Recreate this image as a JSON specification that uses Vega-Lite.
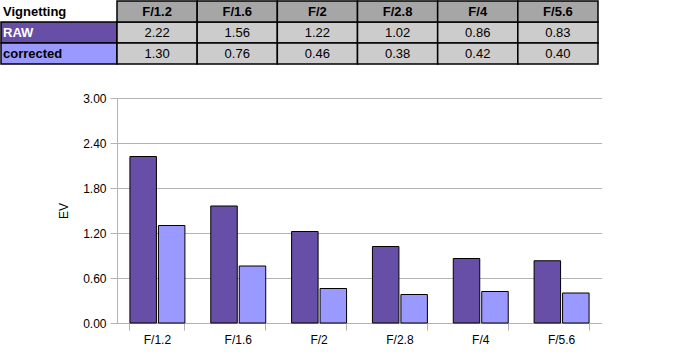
{
  "$schema": "https://vega.github.io/schema/vega-lite/v6.json",
  "padding": 0,
  "background": "white",
  "config": {"view": {"stroke": null}, "font": "Liberation Sans"},
  "datasets": {
    "bars": [
      {"F": "F/1.2", "series": "RAW", "EV": 2.22},
      {"F": "F/1.2", "series": "corrected", "EV": 1.30},
      {"F": "F/1.6", "series": "RAW", "EV": 1.56},
      {"F": "F/1.6", "series": "corrected", "EV": 0.76},
      {"F": "F/2", "series": "RAW", "EV": 1.22},
      {"F": "F/2", "series": "corrected", "EV": 0.46},
      {"F": "F/2.8", "series": "RAW", "EV": 1.02},
      {"F": "F/2.8", "series": "corrected", "EV": 0.38},
      {"F": "F/4", "series": "RAW", "EV": 0.86},
      {"F": "F/4", "series": "corrected", "EV": 0.42},
      {"F": "F/5.6", "series": "RAW", "EV": 0.83},
      {"F": "F/5.6", "series": "corrected", "EV": 0.40}
    ],
    "labels": [
      {"row": "header", "label": "Vignetting"},
      {"row": "RAW", "label": "RAW"},
      {"row": "corrected", "label": "corrected"}
    ]
  },
  "bounds": "flush",
  "spacing": 0,
  "hconcat": [
    {
      "width": 116,
      "height": 63,
      "data": {"name": "labels"},
      "encoding": {
        "y": {"field": "row", "type": "nominal", "sort": null, "scale": {"domain": ["header", "RAW", "corrected"], "paddingInner": 0, "paddingOuter": 0}, "axis": null}
      },
      "layer": [
        {
          "mark": {"type": "rect", "strokeWidth": 1.5},
          "encoding": {
            "fill": {"field": "row", "type": "nominal", "scale": {"domain": ["header", "RAW", "corrected"], "range": ["#ffffff", "#674ea7", "#9999ff"]}, "legend": null},
            "stroke": {"field": "row", "type": "nominal", "scale": {"domain": ["header", "RAW", "corrected"], "range": ["#ffffff", "#000000", "#000000"]}, "legend": null}
          }
        },
        {
          "mark": {"type": "text", "align": "left", "dx": 2, "fontWeight": "bold", "fontSize": 13, "font": "Liberation Sans"},
          "encoding": {
            "x": {"value": 0},
            "text": {"field": "label", "type": "nominal"},
            "color": {"field": "row", "type": "nominal", "scale": {"domain": ["header", "RAW", "corrected"], "range": ["#000000", "#ffffff", "#000000"]}, "legend": null}
          }
        }
      ]
    },
    {
      "bounds": "flush",
      "spacing": 34,
      "vconcat": [
        {
          "width": 481,
          "height": 63,
          "data": {"name": "bars"},
          "encoding": {
            "x": {"field": "F", "type": "nominal", "sort": null, "scale": {"domain": ["F/1.2", "F/1.6", "F/2", "F/2.8", "F/4", "F/5.6"], "paddingInner": 0, "paddingOuter": 0}, "axis": null}
          },
          "layer": [
            {
              "mark": {"type": "rect", "fill": "#cccccc", "stroke": "#000000", "strokeWidth": 1.5},
              "encoding": {
                "y": {"field": "series", "type": "nominal", "scale": {"domain": ["header", "RAW", "corrected"], "paddingInner": 0, "paddingOuter": 0}, "axis": null}
              }
            },
            {
              "transform": [{"filter": "datum.series === 'RAW'"}],
              "mark": {"type": "rect", "fill": "#a6a6a6", "stroke": "#000000", "strokeWidth": 1.5},
              "encoding": {
                "y": {"datum": "header", "type": "nominal"}
              }
            },
            {
              "mark": {"type": "text", "fontSize": 13, "color": "#000000", "font": "Liberation Sans"},
              "encoding": {
                "y": {"field": "series", "type": "nominal"},
                "text": {"field": "EV", "type": "quantitative", "format": ".2f"}
              }
            },
            {
              "transform": [{"filter": "datum.series === 'RAW'"}],
              "mark": {"type": "text", "fontSize": 13, "fontWeight": "bold", "color": "#000000", "font": "Liberation Sans"},
              "encoding": {
                "y": {"datum": "header", "type": "nominal"},
                "text": {"field": "F", "type": "nominal"}
              }
            }
          ]
        },
        {
          "width": 485,
          "height": 225,
          "data": {"name": "bars"},
          "mark": {"type": "bar", "strokeWidth": 1},
          "encoding": {
            "x": {
              "field": "F", "type": "nominal", "sort": null,
              "scale": {"domain": ["F/1.2", "F/1.6", "F/2", "F/2.8", "F/4", "F/5.6"], "paddingInner": 0.32, "paddingOuter": 0.16},
              "axis": {"title": null, "labelAngle": 0, "bandPosition": 1, "tickExtra": true, "domainColor": "#b3b3b3", "tickColor": "#b3b3b3", "tickSize": 7, "labelFontSize": 12, "labelColor": "#000000", "labelPadding": 4, "grid": false}
            },
            "xOffset": {"field": "series", "type": "nominal", "sort": ["RAW", "corrected"], "scale": {"domain": ["RAW", "corrected"], "paddingInner": 0.07}},
            "y": {
              "field": "EV", "type": "quantitative",
              "scale": {"domain": [0, 3]},
              "axis": {"title": "EV", "values": [0, 0.6, 1.2, 1.8, 2.4, 3.0], "format": ".2f", "grid": true, "gridColor": "#b3b3b3", "domainColor": "#b3b3b3", "tickColor": "#b3b3b3", "tickSize": 7, "labelFontSize": 12, "labelColor": "#000000", "labelPadding": 4, "titleFontWeight": "normal", "titleFontSize": 12, "titleColor": "#000000", "titlePadding": 12}
            },
            "fill": {"field": "series", "type": "nominal", "scale": {"domain": ["RAW", "corrected"], "range": ["#674ea7", "#9999ff"]}, "legend": null},
            "stroke": {"field": "series", "type": "nominal", "scale": {"domain": ["RAW", "corrected"], "range": ["#808080", "#b3b3ff"]}, "legend": null}
          }
        }
      ]
    }
  ]
}
